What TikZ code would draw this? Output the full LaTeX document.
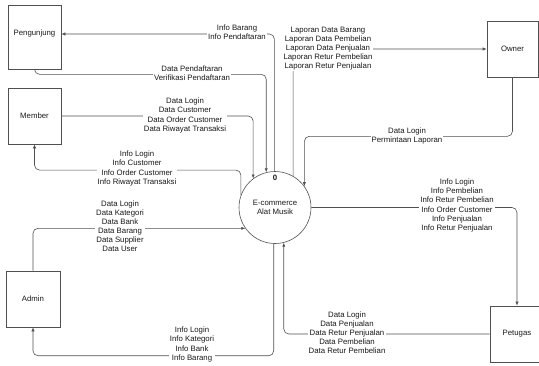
\documentclass[tikz,border=0pt]{standalone}
\usepackage{fontspec}
\setmainfont{Liberation Sans}
\usetikzlibrary{arrows.meta}
\definecolor{ln}{RGB}{80,80,80}
\definecolor{tx}{RGB}{25,25,25}
\begin{document}
\begin{tikzpicture}[x=1pt,y=-1pt,
  every node/.style={font=\fontsize{7.8}{9.1}\selectfont, text=tx},
  ent/.style={draw=ln, line width=0.6pt, inner sep=0pt},
  proc/.style={draw=ln, line width=0.6pt, circle, minimum size=72pt, inner sep=0pt, align=center},
  flow/.style={draw=ln, line width=0.6pt, rounded corners=5pt, -{Latex[length=4pt,width=3.2pt]}},
  lab/.style={fill=white, align=center, inner sep=1pt}]
\useasboundingbox (0,0) rectangle (539,365);
% entities
\node[ent, minimum width=53pt, minimum height=64pt, label={[yshift=4pt]center:Pengunjung}] (peng) at (34.5,37) {};
\node[ent, minimum width=53pt, minimum height=56pt] (member) at (34.5,116) {Member};
\node[ent, minimum width=54pt, minimum height=56pt] (admin) at (33,299) {Admin};
\node[ent, minimum width=51pt, minimum height=56pt] (owner) at (512.5,49) {Owner};
\node[ent, minimum width=54pt, minimum height=56pt] (petugas) at (517,334) {Petugas};
% process
\node[proc] (c) at (275,207.5) {E-commerce\\Alat Musik};
\node[font=\fontsize{7.8}{9.1}\selectfont\bfseries] (c0) at (275,178) {0};
% flows
\draw[flow] (c.91.6) |- ([yshift=3pt]peng.east);
\draw[flow] (peng.south) -- ++(0,5) -| (c.104.5);
\draw[flow] (member.east) -| (c.127.7);
\draw[flow] (c.160) -- ++(0,-25) -| (member.south);
\draw[flow] (admin.north) |- (c.215.7);
\draw[flow] (c.268.4) -- ++(0,112) -| (admin.south);
\draw[flow] (petugas.west) -| (c.284.5);
\draw[flow] (c.east) -| (petugas.north);
\draw[flow] (owner.south) -- ++(0,59) -| (c.36.3);
\draw[flow] (c.60) |- (owner.west);
% labels
\node[lab] (l1) at (237,32.5) {Info Barang\\Info Pendaftaran};
\node[lab] (l2) at (192,73) {Data Pendaftaran\\Verifikasi Pendaftaran};
\node[lab] (l3) at (185,115.5) {Data Login\\Data Customer\\Data Order Customer\\Data Riwayat Transaksi};
\node[lab] (l4) at (137,168.5) {Info Login\\Info Customer\\Info Order Customer\\Info Riwayat Transaksi};
\node[lab] (l5) at (120,226) {Data Login\\Data Kategori\\Data Bank\\Data Barang\\Data Supplier\\Data User};
\node[lab] (l6) at (192,344.5) {Info Login\\Info Kategori\\Info Bank\\Info Barang};
\node[lab] (l7) at (328,48.5) {Laporan Data Barang\\Laporan Data Pembelian\\Laporan Data Penjualan\\Laporan Retur Pembelian\\Laporan Retur Penjualan};
\node[lab] (l8) at (407,136) {Data Login\\Permintaan Laporan};
\node[lab] (l9) at (457,205.5) {Info Login\\Info Pembelian\\Info Retur Pembelian\\Info Order Customer\\Info Penjualan\\Info Retur Penjualan};
\node[lab] (l10) at (347,333) {Data Login\\Data Penjualan\\Data Retur Penjualan\\Data Pembelian\\Data Retur Pembelian};
\end{tikzpicture}
\end{document}
